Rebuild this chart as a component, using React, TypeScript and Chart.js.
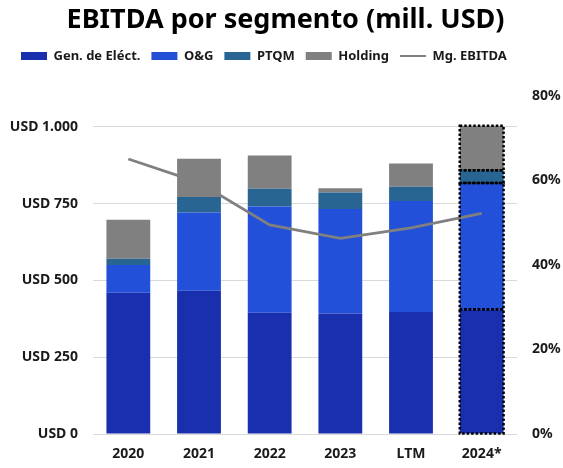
import React, { useEffect, useRef } from 'react';
import { Chart, registerables } from 'chart.js';

Chart.register(...registerables);

const categories = ['2020', '2021', '2022', '2023', 'LTM', '2024*'];
const genElect = [460, 466, 395, 392, 397, 406];
const oyg = [90, 255, 345, 340, 361, 411];
const ptqm = [20, 50, 58, 54, 47, 41];
const holding = [127, 125, 108, 14, 75, 145];
const mgEbitda = [0.651, 0.595, 0.495, 0.463, 0.488, 0.522];
const leftTicks = [0, 250, 500, 750, 1000];

const FONT = 'Noto Sans';
const TEXT = '#1a1a1a';
const TICK_SIZE = 14;

const fmtUSD = (v: number) =>
  'USD ' + String(Math.round(v)).replace(/\B(?=(\d{3})+(?!\d))/g, '.');

const dottedLast = {
  id: 'dottedLast',
  afterDatasetsDraw(chart: any) {
    const ctx = chart.ctx;
    const last = categories.length - 1;
    ctx.save();
    ctx.strokeStyle = '#000';
    ctx.lineWidth = 2.5;
    ctx.setLineDash([2.5, 2]);
    chart.data.datasets.forEach((ds: any, i: number) => {
      if (ds.type !== 'bar') return;
      const meta = chart.getDatasetMeta(i);
      const el = meta.data[last];
      if (!el) return;
      const { x, y, base, width } = el.getProps(['x', 'y', 'base', 'width'], true);
      const top = Math.min(y, base);
      const h = Math.abs(base - y);
      ctx.strokeRect(x - width / 2, top, width, h);
    });
    ctx.restore();
  },
};

const legendGap = {
  id: 'legendGap',
  beforeInit(chart: any) {
    const legend = chart.legend;
    if (!legend) return;
    const origFit = legend.fit;
    legend.fit = function () {
      origFit.call(this);
      this.height += 23.6;
    };
  },
};

export default function App() {
  const ref = useRef<HTMLCanvasElement>(null);
  useEffect(() => {
    document.body.style.margin = '0';
    const chart = new Chart(ref.current as HTMLCanvasElement, {
      type: 'bar',
      data: {
        labels: categories,
        datasets: [
          {
            type: 'line',
            label: 'Mg. EBITDA',
            data: mgEbitda,
            yAxisID: 'y1',
            borderColor: '#808080',
            backgroundColor: '#808080',
            borderWidth: 2.75,
            pointRadius: 0,
            tension: 0,
            order: 0,
          } as any,
          { type: 'bar', label: 'Gen. de Eléct.', data: genElect, backgroundColor: '#1a2fae', yAxisID: 'y', order: 1 },
          { type: 'bar', label: 'O&G', data: oyg, backgroundColor: '#2250d9', yAxisID: 'y', order: 1 },
          { type: 'bar', label: 'PTQM', data: ptqm, backgroundColor: '#286592', yAxisID: 'y', order: 1 },
          { type: 'bar', label: 'Holding', data: holding, backgroundColor: '#808080', yAxisID: 'y', order: 1 },
        ],
      },
      options: {
        responsive: false,
        animation: false,
        datasets: { bar: { categoryPercentage: 1, barPercentage: 0.62 } },
        layout: { padding: { left: 10, right: 2, top: 0, bottom: 6 } },
        plugins: {
          tooltip: { enabled: false },
          title: {
            display: true,
            text: 'EBITDA por segmento (mill. USD)',
            color: '#000',
            font: { family: FONT, size: 27, weight: 'bold' },
            padding: { top: 4, bottom: 2 },
          },
          legend: {
            position: 'top',
            align: 'start',
            labels: {
              usePointStyle: true,
              pointStyleWidth: 26,
              boxHeight: 8,
              padding: 11,
              color: TEXT,
              font: { family: FONT, size: 13, weight: 'bold' },
              generateLabels: (chart: any) => {
                const ds = chart.data.datasets;
                const order = [1, 2, 3, 4, 0];
                return order.map((i) => {
                  const d = ds[i];
                  const isLine = d.type === 'line';
                  return {
                    text: d.label,
                    fillStyle: d.backgroundColor,
                    strokeStyle: isLine ? d.borderColor : d.backgroundColor,
                    lineWidth: isLine ? 2 : 0,
                    pointStyle: isLine ? 'line' : 'rect',
                    hidden: false,
                    datasetIndex: i,
                    fontColor: TEXT,
                  };
                });
              },
            },
          },
        },
        scales: {
          x: {
            stacked: true,
            grid: { display: false, drawTicks: false },
            border: { display: false },
            afterFit: (s: any) => {
              s.height = 28;
            },
            ticks: { color: TEXT, font: { family: FONT, size: TICK_SIZE, weight: 'bold' }, padding: 12 },
          },
          y: {
            stacked: true,
            min: 0,
            max: 1100,
            position: 'left',
            afterBuildTicks: (s: any) => {
              s.ticks = leftTicks.map((v) => ({ value: v }));
            },
            afterFit: (s: any) => {
              s.width = 83;
            },
            grid: { color: '#d9d9d9', lineWidth: 1, drawTicks: false },
            border: { display: false },
            ticks: {
              color: TEXT,
              font: { family: FONT, size: TICK_SIZE, weight: 'bold' },
              padding: 15,
              callback: (v: any) => fmtUSD(Number(v)),
            },
          },
          y1: {
            position: 'right',
            min: 0,
            max: 0.8,
            afterFit: (s: any) => {
              s.width = 44;
            },
            grid: { display: false, drawTicks: false },
            border: { display: false },
            ticks: {
              stepSize: 0.2,
              color: TEXT,
              font: { family: FONT, size: TICK_SIZE, weight: 'bold' },
              padding: 15,
              callback: (v: any) => Math.round(Number(v) * 100) + '%',
            },
          },
        },
      } as any,
      plugins: [dottedLast, legendGap],
    });
    return () => chart.destroy();
  }, []);
  return (
    <div style={{ width: 563, height: 468 }}>
      <canvas ref={ref} width={563} height={468} style={{ display: 'block' }} />
    </div>
  );
}
